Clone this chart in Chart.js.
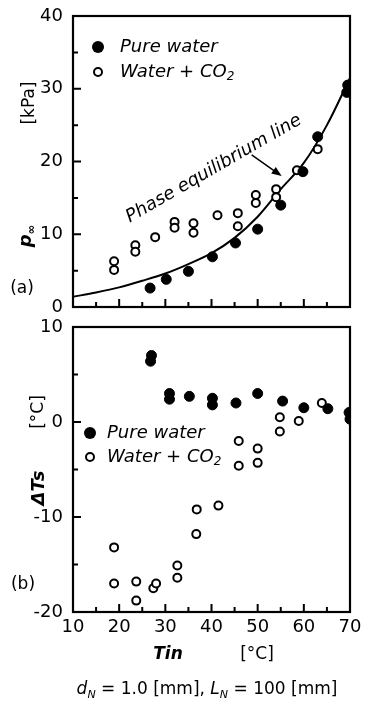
<!DOCTYPE html>
<html>
<head>
<meta charset="utf-8">
<script src="https://cdn.jsdelivr.net/npm/chart.js@4.4.0/dist/chart.umd.min.js"></script>
<style>
  body { margin: 0; background: #fff; }
  #wrap { position: relative; width: 365px; height: 702px; font-family: "DejaVu Sans", "Liberation Sans", Arial, sans-serif; color: #000; overflow: hidden; }
  canvas { position: absolute; left: 0; }
  #topChart { top: 0; }
  #botChart { top: 315px; }
  .lbl { position: absolute; transform: translate(-50%, -50%); white-space: nowrap; font-size: 17px; line-height: 1; }
  .rot { transform: translate(-50%, -50%) rotate(-90deg); }
  .bi { font-weight: bold; font-style: italic; }
  sub { font-size: 0.65em; vertical-align: -0.35em; }
</style>
</head>
<body>
<div id="wrap">
  <canvas id="topChart" width="365" height="320" style="width:365px;height:320px"></canvas>
  <canvas id="botChart" width="365" height="387" style="width:365px;height:387px"></canvas>

  <div class="lbl rot" style="left:28px;top:103px;">[kPa]</div>
  <div class="lbl rot bi" style="left:27px;top:236px;font-size:18px;">p<sub>∞</sub></div>
  <div class="lbl" style="left:22px;top:287px;">(a)</div>

  <div class="lbl rot" style="left:37px;top:412px;">[°C]</div>
  <div class="lbl rot bi" style="left:38px;top:488px;font-size:18px;">ΔTs</div>
  <div class="lbl" style="left:23px;top:583px;">(b)</div>

  <div class="lbl bi" style="left:168px;top:653px;">Tin</div>
  <div class="lbl" style="left:257px;top:653px;">[°C]</div>
  <div class="lbl" style="left:207px;top:690px;"><i>d<sub>N</sub></i> = 1.0 [mm], <i>L<sub>N</sub></i> = 100 [mm]</div>
</div>

<script>
// x axis: inlet temperature Tin [°C]
const xMin = 10, xMax = 70;

// (a) p∞ [kPa]
const pureTa = [26.7, 30.2, 35.0, 40.2, 45.2, 50.0, 55.0, 59.8, 63.0, 69.3, 69.5];
const purePa = [2.6, 3.8, 4.9, 6.9, 8.8, 10.7, 14.0, 18.6, 23.4, 29.5, 30.5];
const co2Ta = [18.9, 18.9, 23.5, 23.5, 27.8, 32.0, 32.0, 36.1, 36.1, 41.3, 45.7, 45.7, 49.6, 49.6, 54.0, 54.0, 58.5, 63.0];
const co2Pa = [6.3, 5.1, 8.5, 7.6, 9.6, 11.7, 10.9, 11.5, 10.2, 12.6, 12.9, 11.1, 15.4, 14.3, 16.2, 15.1, 18.8, 21.7];
const phaseT = [10, 15, 20, 25, 30, 35, 40, 45, 50, 55, 60, 65, 70];
const phaseP = [1.4, 2.0, 2.7, 3.6, 4.6, 5.9, 7.4, 9.5, 12.4, 16.2, 19.8, 25.0, 31.5];

// (b) ΔTs [°C]
const pureTb = [26.8, 27.0, 30.9, 30.9, 35.2, 40.2, 40.2, 45.3, 50.0, 55.4, 60.0, 65.2, 69.8, 70.0];
const pureDb = [6.4, 7.0, 2.4, 3.0, 2.7, 1.8, 2.5, 2.0, 3.0, 2.2, 1.5, 1.4, 1.0, 0.3];
const co2Tb = [18.9, 18.9, 23.7, 23.7, 27.4, 28.0, 32.6, 32.6, 36.7, 36.8, 41.5, 45.9, 45.9, 50.0, 50.0, 54.8, 54.8, 58.9, 63.9];
const co2Db = [-13.2, -17.0, -16.8, -18.8, -17.5, -17.0, -15.1, -16.4, -11.8, -9.2, -8.8, -2.0, -4.6, -2.8, -4.3, 0.5, -1.0, 0.1, 2.0];

const FONT = '"DejaVu Sans", "Liberation Sans", Arial, sans-serif';

const toXY = (xs, ys) => xs.map((x, i) => ({x: x, y: ys[i]}));

const filled = (data) => ({
    type: 'scatter',
    data: data,
    pointRadius: 5,
    pointBackgroundColor: '#000',
    pointBorderColor: '#000',
    pointBorderWidth: 1,
    order: 1
});
const open = (data) => ({
    type: 'scatter',
    data: data,
    pointRadius: 4,
    pointBackgroundColor: '#fff',
    pointBorderColor: '#000',
    pointBorderWidth: 2,
    order: 2
});

// box, inward ticks (major every 10, minor every 5)
const frameTicks = {
    id: 'frameTicks',
    beforeDatasetsDraw(chart) {
        const {ctx, chartArea: a, scales: {x, y}} = chart;
        ctx.save();
        ctx.strokeStyle = '#000';
        ctx.lineWidth = 2.2;
        ctx.strokeRect(a.left, a.top, a.right - a.left, a.bottom - a.top);
        ctx.lineWidth = 2;
        ctx.beginPath();
        for (let v = x.min + 5; v < x.max; v += 5) {
            const px = x.getPixelForValue(v);
            const len = v % 10 === 0 ? 8 : 5;
            ctx.moveTo(px, a.bottom);
            ctx.lineTo(px, a.bottom - len);
        }
        for (let v = y.min + 5; v < y.max; v += 5) {
            const py = y.getPixelForValue(v);
            const len = v % 10 === 0 ? 8 : 5;
            ctx.moveTo(a.left, py);
            ctx.lineTo(a.left + len, py);
        }
        ctx.stroke();
        ctx.restore();
    }
};

// legend drawn inside the plot box
const boxLegend = {
    id: 'boxLegend',
    afterDraw(chart, args, opts) {
        const {ctx, chartArea: a} = chart;
        const lx = a.left + opts.dx, ly = a.top + opts.dy, gap = opts.gap;
        ctx.save();
        ctx.fillStyle = '#000';
        ctx.strokeStyle = '#000';
        ctx.beginPath();
        ctx.arc(lx, ly, 6, 0, Math.PI * 2);
        ctx.fill();
        ctx.lineWidth = 2;
        ctx.beginPath();
        ctx.arc(lx, ly + gap, 4, 0, Math.PI * 2);
        ctx.stroke();
        ctx.font = 'italic 18px ' + FONT;
        ctx.textBaseline = 'middle';
        ctx.textAlign = 'left';
        const tx = lx + opts.textGap;
        ctx.fillText('Pure water', tx, ly);
        ctx.fillText('Water + CO', tx, ly + gap);
        const w = ctx.measureText('Water + CO').width;
        ctx.font = 'italic 12px ' + FONT;
        ctx.fillText('2', tx + w, ly + gap + 5);
        ctx.restore();
    }
};

// "Phase equilibrium line" label and arrow
const phaseNote = {
    id: 'phaseNote',
    afterDatasetsDraw(chart) {
        const {ctx, scales: {x, y}} = chart;
        ctx.save();
        ctx.translate(x.getPixelForValue(40.5), y.getPixelForValue(19.0));
        ctx.rotate(-30 * Math.PI / 180);
        ctx.font = 'italic 18px ' + FONT;
        ctx.textAlign = 'center';
        ctx.textBaseline = 'middle';
        ctx.fillStyle = '#000';
        ctx.fillText('Phase equilibrium line', 0, 0);
        ctx.restore();

        const x0 = x.getPixelForValue(48.7), y0 = y.getPixelForValue(20.9);
        const x1 = x.getPixelForValue(55.2), y1 = y.getPixelForValue(18.0);
        const ang = Math.atan2(y1 - y0, x1 - x0);
        ctx.save();
        ctx.strokeStyle = '#000';
        ctx.fillStyle = '#000';
        ctx.lineWidth = 1.5;
        ctx.beginPath();
        ctx.moveTo(x0, y0);
        ctx.lineTo(x1 - 6 * Math.cos(ang), y1 - 6 * Math.sin(ang));
        ctx.stroke();
        ctx.beginPath();
        ctx.moveTo(x1, y1);
        ctx.lineTo(x1 - 10 * Math.cos(ang) + 4 * Math.sin(ang), y1 - 10 * Math.sin(ang) - 4 * Math.cos(ang));
        ctx.lineTo(x1 - 10 * Math.cos(ang) - 4 * Math.sin(ang), y1 - 10 * Math.sin(ang) + 4 * Math.cos(ang));
        ctx.closePath();
        ctx.fill();
        ctx.restore();
    }
};

// fixed axis sizes so both plot boxes line up; label overhang is not padded
function axisY(min, max) {
    return {
        type: 'linear',
        min: min,
        max: max,
        afterFit: (scale) => { scale.width = 73; scale.paddingTop = 0; scale.paddingBottom = 0; },
        ticks: {stepSize: 10, padding: 10, color: '#000', font: {family: FONT, size: 18}},
        grid: {display: false, drawTicks: false},
        border: {display: false}
    };
}

function axisX(show) {
    return {
        type: 'linear',
        min: xMin,
        max: xMax,
        display: show,
        afterFit: (scale) => { scale.height = show ? 26 : 0; scale.paddingLeft = 0; scale.paddingRight = 0; },
        ticks: {stepSize: 10, padding: 5, color: '#000', maxRotation: 0, font: {family: FONT, size: 18}},
        grid: {display: false, drawTicks: false},
        border: {display: false}
    };
}

new Chart('topChart', {
    data: {
        datasets: [
            filled(toXY(pureTa, purePa)),
            open(toXY(co2Ta, co2Pa)),
            {
                type: 'line',
                data: toXY(phaseT, phaseP),
                borderColor: '#000',
                borderWidth: 2,
                pointRadius: 0,
                cubicInterpolationMode: 'monotone',
                fill: false,
                order: 3
            }
        ]
    },
    options: {
        responsive: false,
        animation: false,
        layout: {padding: {left: 0, right: 15, top: 16, bottom: 13}},
        scales: {x: axisX(false), y: axisY(0, 40)},
        plugins: {
            legend: {display: false},
            tooltip: {enabled: false},
            boxLegend: {dx: 25, dy: 31, gap: 25, textGap: 22}
        }
    },
    plugins: [frameTicks, boxLegend, phaseNote]
});

new Chart('botChart', {
    data: {
        datasets: [
            filled(toXY(pureTb, pureDb)),
            open(toXY(co2Tb, co2Db))
        ]
    },
    options: {
        responsive: false,
        animation: false,
        layout: {padding: {left: 0, right: 15, top: 12, bottom: 64}},
        scales: {x: axisX(true), y: axisY(-20, 10)},
        plugins: {
            legend: {display: false},
            tooltip: {enabled: false},
            boxLegend: {dx: 17, dy: 106, gap: 24, textGap: 17}
        }
    },
    plugins: [frameTicks, boxLegend]
});
</script>
</body>
</html>
